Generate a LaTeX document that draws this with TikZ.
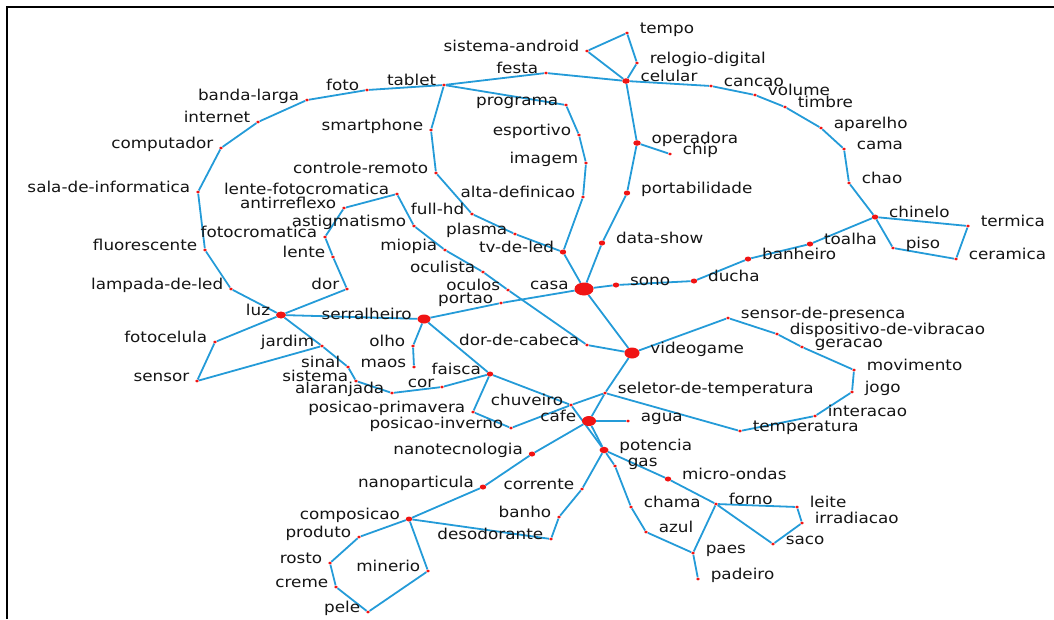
\documentclass[tikz,border=0pt]{standalone}
\usepackage{fontspec}
\setmainfont{DejaVu Sans}[FakeStretch=1.12]
\usepackage{xcolor}
\usepackage{tikz}
\usetikzlibrary{shapes.geometric, positioning, backgrounds}
\definecolor{netblue}{RGB}{36,155,216}
\definecolor{netred}{RGB}{240,20,20}
\definecolor{mydark}{RGB}{20,20,20}
\tikzset{
  netdot/.style={ellipse, fill=netred, inner sep=0pt,
    minimum width=3.8pt, minimum height=3pt},
  netdotm/.style={netdot, minimum width=6.4pt, minimum height=5pt},
  lbl/.style={font=\fontsize{15}{18}\selectfont, text=mydark, inner sep=1pt},
  labl/.style={label={[lbl, anchor=base east, label distance=4.5pt]left:#1}},
  labr/.style={label={[lbl, anchor=base west, label distance=9.5pt]right:#1}},
  netline/.style={line width=1.8pt, color=netblue}
}

\begin{document}
\begin{tikzpicture}[x=1pt, y=-1pt]
  \useasboundingbox (0,0) rectangle (1054,619);
  % frame
  \draw[line width=1.3pt] (7,619) -- (7,7) -- (1054,7);

  % upper left arc
  \node[netdot, labl=foto] (foto) at (367,90) {};
  \node[netdot, labl=banda-larga] (bandalarga) at (307,100) {};
  \node[netdot, labl=internet] (internet) at (258,122) {};
  \node[netdot, labl=computador] (computador) at (221,148) {};
  \node[netdot, labl=sala-de-informatica] (salainfo) at (198,192) {};
  \node[netdot, labl=fluorescente] (fluorescente) at (205,250) {};
  \node[netdot, labl=lampada-de-led] (lampada) at (231,289) {};
  \node[netdot, labl=luz, minimum width=10pt, minimum height=7pt] (luz) at (281,315) {};

  % top
  \node[netdot, labl=tablet] (tablet) at (444,85) {};
  \node[netdot, labl=festa] (festa) at (546,73) {};
  \node[netdot, labr=celular, minimum width=7.5pt, minimum height=5.5pt] (celular) at (626,81) {};
  \node[netdot, labl=sistema-android] (android) at (587,51) {};
  \node[netdot, labr=tempo] (tempo) at (627,33) {};
  \node[netdot, labr=relogio-digital] (relogio) at (637,63) {};
  \node[netdot, labl=programa] (programa) at (566,105) {};
  \node[netdot, labl=esportivo] (esportivo) at (579,135) {};
  \node[netdot, labl=imagem] (imagem) at (586,163) {};
  \node[netdot, labl=alta-definicao] (altadef) at (583,197) {};
  \node[netdotm, labl=tv-de-led] (tvled) at (563,252) {};
  \node[netdot, labl=smartphone] (smartphone) at (431,130) {};
  \node[netdot, labl=controle-remoto] (controle) at (436,173) {};
  \node[netdot, labl=full-hd] (fullhd) at (472,214) {};
  \node[netdot, labl=plasma] (plasma) at (515,234) {};
  \node[netdot, labr=operadora, minimum width=7.5pt, minimum height=5.5pt] (operadora) at (637,143) {};
  \node[netdot, labr=chip] (chip) at (670,154) {};
  \node[netdotm, labr=portabilidade] (portab) at (627,193) {};
  \node[netdotm, labr=data-show] (datashow) at (602,243) {};

  % upper right arc
  \node[netdot, labr=cancao] (cancao) at (711,86) {};
  \node[netdot, labr=volume] (volume) at (755,95) {};
  \node[netdot, labr=timbre] (timbre) at (785,107) {};
  \node[netdot, labr=aparelho] (aparelho) at (821,128) {};
  \node[netdot, labr=cama] (cama) at (844,149) {};
  \node[netdot, labr=chao] (chao) at (849,183) {};
  \node[netdotm, labr=chinelo] (chinelo) at (875,217) {};
  \node[netdot, labr=termica] (termica) at (968,226) {};
  \node[netdot, labr=ceramica] (ceramica) at (956,259) {};
  \node[netdot, labr=piso] (piso) at (893,248) {};
  \node[netdotm, labr=toalha] (toalha) at (810,244) {};
  \node[netdotm, labr=banheiro] (banheiro) at (748,259) {};
  \node[netdotm, labr=ducha] (ducha) at (694,281) {};
  \node[netdotm, labr=sono] (sono) at (616,285) {};
  \node[netdot, labl=casa, minimum width=19pt, minimum height=13pt] (casa) at (584,289) {};

  % optics
  \node[netdot, labl=lente-fotocromatica] (lentefoto) at (397,194) {};
  \node[netdot, labl=antirreflexo] (antirreflexo) at (344,208) {};
  \node[netdot, labl=fotocromatica] (fotocromatica) at (325,237) {};
  \node[netdot, labl=lente] (lente) at (333,257) {};
  \node[netdot, labl=dor] (dor) at (347,289) {};
  \node[netdot, labl=astigmatismo] (astigmatismo) at (414,226) {};
  \node[netdot, labl=miopia] (miopia) at (445,250) {};
  \node[netdot, labl=oculista] (oculista) at (483,272) {};
  \node[netdot, labl=oculos] (oculos) at (508,290) {};
  \node[netdot, labl=portao] (portao) at (501,303) {};
  \node[netdot, labl=serralheiro, minimum width=13pt, minimum height=9pt] (serralheiro) at (424,319) {};
  \node[netdot, labl=dor-de-cabeca] (dorcabeca) at (587,345) {};
  \node[netdot, labr=videogame, minimum width=15pt, minimum height=11pt] (videogame) at (632,353) {};
  \node[netdot, labl=olho] (olho) at (413,346) {};
  \node[netdot, labl=maos] (maos) at (414,367) {};
  \node[netdotm, labl=faisca] (faisca) at (490,374) {};

  % lower left
  \node[netdot, labl=fotocelula] (fotocelula) at (215,342) {};
  \node[netdot, labl=sensor] (sensor) at (197,381) {};
  \node[netdot, labl=jardim] (jardim) at (322,346) {};
  \node[netdot, labl=sinal] (sinal) at (348,367) {};
  \node[netdot, labl=sistema] (sistema) at (356,381) {};
  \node[netdot, labl=alaranjada] (alaranjada) at (392,393) {};
  \node[netdot, labl=cor] (cor) at (442,387) {};
  \node[netdot, labl=posicao-primavera] (primavera) at (473,412) {};
  \node[netdot, labl=posicao-inverno] (inverno) at (511,428) {};
  \node[netdot, labl=chuveiro] (chuveiro) at (571,405) {};
  \node[netdot, labr=seletor-de-temperatura] (seletor) at (605,393) {};
  \node[netdot, labl=cafe, minimum width=14pt, minimum height=10pt] (cafe) at (589,421) {};
  \node[netdot, labr=agua] (agua) at (628,421) {};

  % videogame loop
  \node[netdot, labr=temperatura] (temperatura) at (740,431) {};
  \node[netdot, labr=interacao] (interacao) at (815,416) {};
  \node[netdot, labr=jogo] (jogo) at (852,392) {};
  \node[netdot, labr=movimento] (movimento) at (854,370) {};
  \node[netdot, labr=geracao] (geracao) at (802,347) {};
  \node[netdot, labr=dispositivo-de-vibracao] (vibracao) at (777,334) {};
  \node[netdot, labr=sensor-de-presenca] (presenca) at (728,318) {};

  % bottom
  \node[netdot, labr=potencia, minimum width=9pt, minimum height=6.5pt] (potencia) at (604,450) {};
  \node[netdotm, labl=nanotecnologia] (nanotec) at (532,454) {};
  \node[netdotm, labl=nanoparticula] (nanopart) at (483,487) {};
  \node[netdotm, labl=composicao] (composicao) at (409,519) {};
  \node[netdot, labl=produto] (produto) at (359,537) {};
  \node[netdot, labl=rosto] (rosto) at (330,563) {};
  \node[netdot, labl=creme] (creme) at (336,587) {};
  \node[netdot, labl=pele] (pele) at (368,612) {};
  \node[netdot, labl=minerio] (minerio) at (428,571) {};
  \node[netdot, labl=desodorante] (desodorante) at (551,539) {};
  \node[netdot, labl=banho] (banho) at (559,517) {};
  \node[netdot, labl=corrente] (corrente) at (582,489) {};
  \node[netdot, labr=gas] (gas) at (615,466) {};
  \node[netdot, labr=chama] (chama) at (631,507) {};
  \node[netdot, labr=azul] (azul) at (646,532) {};
  \node[netdot, labr=paes] (paes) at (693,553) {};
  \node[netdot, labr=padeiro] (padeiro) at (698,579) {};
  \node[netdot, labr=forno] (forno) at (716,504) {};
  \node[netdotm, labr=micro-ondas] (microondas) at (668,479) {};
  \node[netdot, labr=leite] (leite) at (797,507) {};
  \node[netdot, labr=irradiacao] (irradiacao) at (802,523) {};
  \node[netdot, labr=saco] (saco) at (773,544) {};

  % connectors
  \begin{scope}[on background layer]
    \draw[netline] (luz) -- (lampada) -- (fluorescente) -- (salainfo) -- (computador)
      -- (internet) -- (bandalarga) -- (foto) -- (tablet) -- (festa) -- (celular)
      -- (cancao) -- (volume) -- (timbre) -- (aparelho) -- (cama) -- (chao) -- (chinelo);
    \draw[netline] (celular) -- (android) -- (tempo) -- (relogio) -- (celular);
    \draw[netline] (tablet) -- (programa) -- (esportivo) -- (imagem) -- (altadef) -- (tvled) -- (casa);
    \draw[netline] (tablet) -- (smartphone) -- (controle) -- (fullhd) -- (plasma) -- (tvled);
    \draw[netline] (celular) -- (operadora) -- (chip);
    \draw[netline] (operadora) -- (portab) -- (datashow) -- (casa);
    \draw[netline] (casa) -- (sono) -- (ducha) -- (banheiro) -- (toalha) -- (chinelo)
      -- (termica) -- (ceramica) -- (piso) -- (chinelo);
    \draw[netline] (casa) -- (portao) -- (serralheiro) -- (luz);
    \draw[netline] (casa) -- (videogame);
    \draw[netline] (lentefoto) -- (antirreflexo) -- (fotocromatica) -- (lente) -- (dor) -- (luz);
    \draw[netline] (lentefoto) -- (astigmatismo) -- (miopia) -- (oculista) -- (oculos)
      -- (dorcabeca) -- (videogame);
    \draw[netline] (serralheiro) -- (olho) -- (maos);
    \draw[netline] (serralheiro) -- (faisca);
    \draw[netline] (luz) -- (fotocelula) -- (sensor) -- (jardim);
    \draw[netline] (luz) -- (jardim) -- (sinal) -- (sistema) -- (alaranjada) -- (cor) -- (faisca);
    \draw[netline] (faisca) -- (primavera) -- (inverno) -- (chuveiro) -- (seletor);
    \draw[netline] (faisca) -- (chuveiro) -- (potencia);
    \draw[netline] (videogame) -- (seletor) -- (cafe);
    \draw[netline] (seletor) -- (temperatura) -- (interacao) -- (jogo) -- (movimento)
      -- (geracao) -- (vibracao) -- (presenca) -- (videogame);
    \draw[netline] (cafe) -- (agua);
    \draw[netline] (cafe) -- (potencia);
    \draw[netline] (cafe) -- (nanotec) -- (nanopart) -- (composicao);
    \draw[netline] (composicao) -- (produto) -- (rosto) -- (creme) -- (pele) -- (minerio) -- (composicao);
    \draw[netline] (composicao) -- (desodorante) -- (banho) -- (corrente) -- (potencia);
    \draw[netline] (potencia) -- (gas) -- (chama) -- (azul) -- (paes) -- (padeiro);
    \draw[netline] (potencia) -- (microondas) -- (forno) -- (paes);
    \draw[netline] (forno) -- (leite) -- (irradiacao) -- (saco) -- (forno);
  \end{scope}
\end{tikzpicture}
\end{document}
